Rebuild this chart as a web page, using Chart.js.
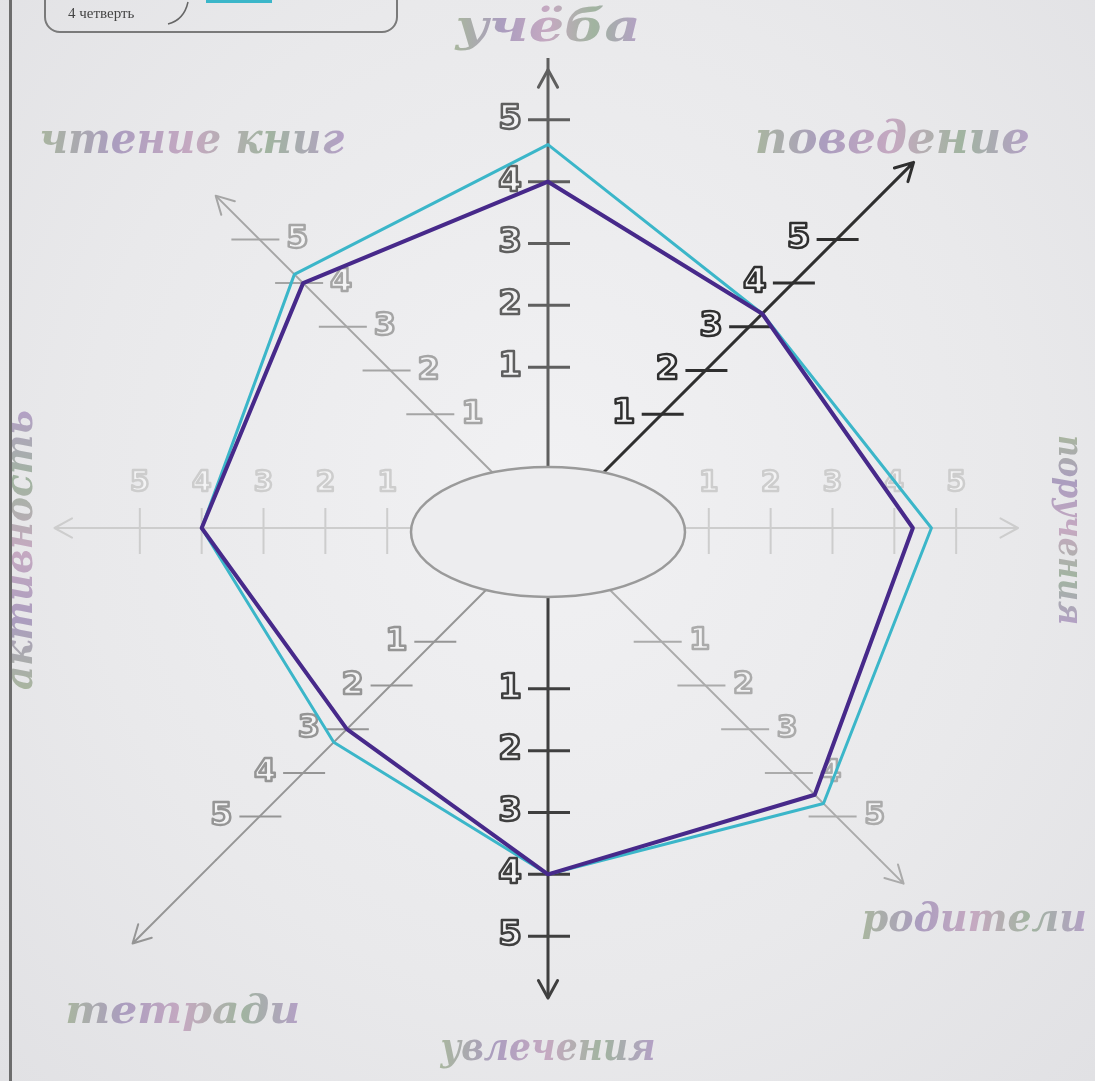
<!DOCTYPE html>
<html lang="ru">
<head>
<meta charset="utf-8">
<title>учёба — диаграмма</title>
<script src="https://cdn.jsdelivr.net/npm/chart.js@4.4.1/dist/chart.umd.min.js"></script>
<style>
  html, body { margin: 0; padding: 0; }
  body {
    width: 1095px; height: 1081px; overflow: hidden; position: relative;
    background: radial-gradient(ellipse at 50% 45%, #f1f1f3 0%, #e9e9eb 60%, #e1e1e4 100%);
  }
  #wrap { position: absolute; left: 0; top: 0; width: 1095px; height: 1081px; }
  #leftRule { position: absolute; left: 9px; top: 0; width: 3px; height: 1081px; background: #6d6d6d; }
  #legendBox {
    position: absolute; left: 44px; top: -62px; width: 354px; height: 95px;
    border: 2px solid #7a7a7a; border-radius: 16px; box-sizing: border-box;
  }
  #legendText {
    position: absolute; left: 22px; bottom: 9px;
    font: 15px "Liberation Serif", serif; color: #444;
  }
  #legendArt { position: absolute; left: 0; top: 0; }
</style>
</head>
<body>
<div id="wrap"><canvas id="radar" width="1095" height="1081"></canvas></div>
<div id="leftRule"></div>
<div id="legendBox">
  <svg id="legendArt" width="354" height="95">
    <path d="M 122 84 Q 138 80 142 62" fill="none" stroke="#666" stroke-width="1.5"/>
    <rect x="160" y="50" width="66" height="13" fill="#3bb6c9"/>
  </svg>
  <div id="legendText">4 четверть</div>
</div>
<script>
const AXES = ['учёба', 'поведение', 'поручения', 'родители', 'увлечения', 'тетради', 'активность', 'чтение книг'];
const TICK_VALUES = [1, 2, 3, 4, 5];
const SERIES_NAMES = ['3 четверть', '4 четверть'];
const QUARTER_3 = [4, 3.3, 4.3, 4.5, 4, 3, 4, 4];
const QUARTER_4 = [4.6, 3.3, 4.6, 4.7, 4, 3.3, 4, 4.2];

// per-axis look: axis line, tick digits, caption placement
const AXIS_COLOR = ['#5f5f5f', '#2f2f2f', '#cdcdcd', '#ababab', '#3f3f3f', '#959595', '#cdcdcd', '#a5a5a5'];
const AXIS_WIDTH = [3, 3, 2, 2, 3, 2, 2, 2];
const AXIS_STRETCH = [0.975, 1.1, 1, 1.07, 1, 1.25, 1.05, 1];
const TICK_SIDE = ['left', 'left', 'up', 'right', 'left', 'left', 'up', 'right'];
const TICK_SIZE = [34, 34, 28, 30, 34, 32, 28, 32];
const CAPTION_OFFSET = [[0, -28], [12, -54], [50, 2], [94, 60], [0, 52], [-33, 152], [-56, 22], [-24, -54]];
const CAPTION_WIDTH = [185, 275, 190, 225, 215, 235, 280, 305];
const CAPTION_SIZE = [44, 44, 36, 40, 40, 40, 40, 42];
const CAPTION_ROT = [0, 0, Math.PI / 2, 0, 0, 0, -Math.PI / 2, 0];

const PAPER = '#ededef';

function drawCaption(ctx, text, x, y, w, rot, size) {
  ctx.save();
  ctx.translate(x, y);
  ctx.rotate(rot);
  ctx.font = 'italic bold ' + size + 'px "DejaVu Serif"';
  const m = ctx.measureText(text).width;
  ctx.scale(w / m, 1);
  const g = ctx.createLinearGradient(-m / 2, 0, m / 2, 0);
  g.addColorStop(0, '#a9b69f');
  g.addColorStop(0.25, '#ab9dbf');
  g.addColorStop(0.5, '#c5a9c1');
  g.addColorStop(0.75, '#a1b4a0');
  g.addColorStop(1, '#b4a0c6');
  ctx.fillStyle = g;
  ctx.textAlign = 'center';
  ctx.textBaseline = 'middle';
  ctx.fillText(text, 0, 0);
  ctx.restore();
}

function drawDigit(ctx, txt, x, y, size, color) {
  ctx.save();
  ctx.font = 'bold ' + size + 'px "DejaVu Sans"';
  ctx.textAlign = 'center';
  ctx.textBaseline = 'middle';
  ctx.lineJoin = 'round';
  ctx.lineWidth = 2.5;
  ctx.strokeStyle = color;
  ctx.fillStyle = '#f3f3f4';
  ctx.fillText(txt, x, y);
  ctx.strokeText(txt, x, y);
  ctx.restore();
}

const decorPlugin = {
  id: 'decor',
  beforeDatasetsDraw(chart) {
    const ctx = chart.ctx;
    const s = chart.scales.r;
    const R = s.getDistanceFromCenterForValue(s.max);

    // hand-drawn axes are not all the same length: extend / trim, then arrow heads
    AXES.forEach((name, i) => {
      const base = s.getPointPosition(i, R);
      const end = s.getPointPosition(i, R * AXIS_STRETCH[i]);
      const a = s.getIndexAngle(i) - Math.PI / 2;
      ctx.save();
      ctx.strokeStyle = AXIS_COLOR[i];
      ctx.lineWidth = AXIS_WIDTH[i];
      ctx.lineCap = 'round';
      ctx.beginPath();
      if (AXIS_STRETCH[i] > 1) {
        ctx.moveTo(base.x, base.y);
        ctx.lineTo(end.x, end.y);
      }
      [a + Math.PI - 0.5, a + Math.PI + 0.5].forEach((b) => {
        ctx.moveTo(end.x, end.y);
        ctx.lineTo(end.x + 20 * Math.cos(b), end.y + 20 * Math.sin(b));
      });
      ctx.stroke();
      ctx.restore();
    });

    // centre ellipse
    ctx.save();
    ctx.beginPath();
    ctx.ellipse(s.xCenter, s.yCenter + 4, 137, 65, 0, 0, Math.PI * 2);
    ctx.fillStyle = PAPER;
    ctx.fill();
    ctx.lineWidth = 2.5;
    ctx.strokeStyle = '#9a9a9a';
    ctx.stroke();
    ctx.restore();

    // tick dashes and outlined digits
    AXES.forEach((name, i) => {
      TICK_VALUES.forEach((v) => {
        const p = s.getPointPosition(i, s.getDistanceFromCenterForValue(v));
        ctx.save();
        ctx.strokeStyle = AXIS_COLOR[i];
        ctx.lineWidth = AXIS_WIDTH[i];
        ctx.beginPath();
        if (TICK_SIDE[i] === 'up') {
          ctx.moveTo(p.x, p.y - 20);
          ctx.lineTo(p.x, p.y + 26);
          ctx.stroke();
          drawDigit(ctx, String(v), p.x, p.y - 44, TICK_SIZE[i], AXIS_COLOR[i]);
        } else if (TICK_SIDE[i] === 'left') {
          ctx.moveTo(p.x - 20, p.y);
          ctx.lineTo(p.x + 22, p.y);
          ctx.stroke();
          drawDigit(ctx, String(v), p.x - 38, p.y, TICK_SIZE[i], AXIS_COLOR[i]);
        } else {
          ctx.moveTo(p.x - 28, p.y);
          ctx.lineTo(p.x + 20, p.y);
          ctx.stroke();
          drawDigit(ctx, String(v), p.x + 38, p.y, TICK_SIZE[i], AXIS_COLOR[i]);
        }
        ctx.restore();
      });
    });

    // axis captions
    AXES.forEach((name, i) => {
      const end = s.getPointPosition(i, R);
      drawCaption(ctx, name, end.x + CAPTION_OFFSET[i][0], end.y + CAPTION_OFFSET[i][1],
        CAPTION_WIDTH[i], CAPTION_ROT[i], CAPTION_SIZE[i]);
    });
  },
};

new Chart(document.getElementById('radar'), {
  type: 'radar',
  data: {
    labels: AXES,
    datasets: [
      {
        label: SERIES_NAMES[0],
        data: QUARTER_3,
        borderColor: '#47298a',
        borderWidth: 4,
        fill: false,
        pointRadius: 0,
        tension: 0,
        borderJoinStyle: 'round',
      },
      {
        label: SERIES_NAMES[1],
        data: QUARTER_4,
        borderColor: '#3bb6c9',
        borderWidth: 3,
        fill: false,
        pointRadius: 0,
        tension: 0,
        borderJoinStyle: 'round',
      },
    ],
  },
  options: {
    responsive: false,
    animation: false,
    layout: { padding: { left: 78, right: 77, top: 58, bottom: 83 } },
    plugins: { legend: { display: false }, tooltip: { enabled: false } },
    scales: {
      r: {
        min: -1.6,
        max: 6,
        grid: { display: false },
        ticks: { display: false },
        pointLabels: { display: false },
        angleLines: {
          display: true,
          color: (c) => AXIS_COLOR[c.index],
          lineWidth: (c) => AXIS_WIDTH[c.index],
        },
      },
    },
  },
  plugins: [decorPlugin],
});
</script>
</body>
</html>
